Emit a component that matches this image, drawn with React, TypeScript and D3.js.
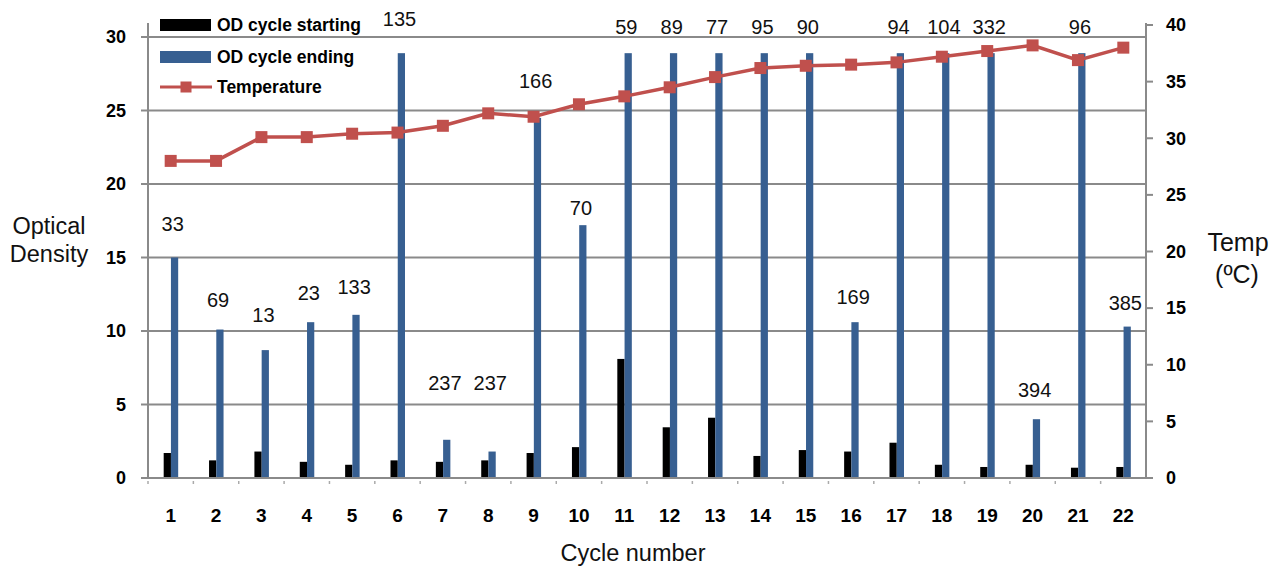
import React from "react";
import * as d3 from "d3";

const cycles = ["1","2","3","4","5","6","7","8","9","10","11","12","13","14","15","16","17","18","19","20","21","22"];
const odStart = [1.7,1.2,1.8,1.1,0.9,1.2,1.1,1.2,1.7,2.1,8.1,3.45,4.1,1.5,1.9,1.8,2.4,0.9,0.75,0.9,0.7,0.75];
const odEnd = [15.0,10.1,8.7,10.6,11.1,28.9,2.6,1.8,24.5,17.2,28.9,28.9,28.9,28.9,28.9,10.6,28.9,28.9,28.9,4.0,28.9,10.3];
const temperature = [28,28,30.1,30.1,30.4,30.5,31.1,32.2,31.9,33.0,33.7,34.5,35.4,36.2,36.4,36.5,36.7,37.2,37.7,38.2,36.9,38.0];
const labels = ["33","69","13","23","133","135","237","237","166","70","59","89","77","95","90","169","94","104","332","394","96","385"];
// height (in OD units) at which each annotation label sits
const labelLevel = [17.3,12.1,11.1,12.6,13.0,31.25,6.45,6.45,27.0,18.4,30.7,30.7,30.7,30.7,30.7,12.3,30.7,30.7,30.7,6.0,30.7,11.9];
const leftTicks = [0,5,10,15,20,25,30];
const rightTicks = [0,5,10,15,20,25,30,35,40];
const seriesNames = ["OD cycle starting","OD cycle ending","Temperature"];

const W = 1281, H = 567;
const left = 148, right = 1146, bottom = 478, axisTop = 23;
const BLUE = "#375f91";
const RED = "#c0504d";
const GRID = "#8a8a8a";
const FONT = "'Liberation Sans', Arial, sans-serif";

export default function App() {
  const x = d3.scaleBand<string>().domain(cycles).range([left, right]).padding(0);
  const yL = d3.scaleLinear().domain([0, 30]).range([bottom, 37]);
  const yR = d3.scaleLinear().domain([0, 40]).range([bottom, 25]);
  const sub = d3.scaleBand<string>().domain(["start","end"]).range([0, 14.5]).padding(0);
  const line = d3.line<number>()
    .x((_, i) => x(cycles[i])! + x.bandwidth() / 2)
    .y((d) => yR(d));

  return (
    <svg width={W} height={H} style={{ position: "absolute", left: 0, top: 0, background: "#fff", fontFamily: FONT }}>
      {/* gridlines */}
      {leftTicks.filter(t => t > 0).map(t => (
        <line key={"g" + t} x1={left} x2={right} y1={yL(t)} y2={yL(t)} stroke={GRID} strokeWidth={2} />
      ))}
      {/* bars */}
      {cycles.map((c, i) => {
        const cx = x(c)! + x.bandwidth() / 2 - 7;
        return (
          <g key={"b" + c}>
            <rect x={cx + sub("start")!} y={yL(odStart[i])} width={sub.bandwidth()} height={bottom - yL(odStart[i])} fill="#000" />
            <rect x={cx + sub("end")!} y={yL(odEnd[i])} width={sub.bandwidth()} height={bottom - yL(odEnd[i])} fill={BLUE} />
          </g>
        );
      })}
      {/* temperature line */}
      <path d={line(temperature) || ""} fill="none" stroke={RED} strokeWidth={3.5} />
      {temperature.map((t, i) => {
        const px = x(cycles[i])! + x.bandwidth() / 2;
        return <rect key={"m" + i} x={px - 6} y={yR(t) - 6} width={12} height={12} fill={RED} />;
      })}
      {/* annotation labels */}
      {labels.map((l, i) => {
        const px = x(cycles[i])! + x.bandwidth() / 2 + 2;
        return (
          <text key={"l" + i} x={px} y={yL(labelLevel[i])} dy="0.35em" textAnchor="middle" fontSize={20} fill="#111">{l}</text>
        );
      })}
      {/* axes */}
      <line x1={left} x2={left} y1={axisTop} y2={bottom + 1} stroke={GRID} strokeWidth={2} />
      <line x1={right} x2={right} y1={axisTop} y2={bottom + 1} stroke={GRID} strokeWidth={2} />
      <line x1={left - 6} x2={right + 6} y1={bottom} y2={bottom} stroke={GRID} strokeWidth={2} />
      {leftTicks.map(t => (
        <g key={"lt" + t}>
          <line x1={left - 7} x2={left} y1={yL(t)} y2={yL(t)} stroke={GRID} strokeWidth={2} />
          <text x={126} y={yL(t)} dy="0.35em" textAnchor="end" fontSize={18} fontWeight="bold" fill="#000">{t}</text>
        </g>
      ))}
      {rightTicks.map(t => (
        <g key={"rt" + t}>
          <line x1={right} x2={right + 7} y1={yR(t)} y2={yR(t)} stroke={GRID} strokeWidth={2} />
          <text x={1166} y={yR(t)} dy="0.35em" textAnchor="start" fontSize={18} fontWeight="bold" fill="#000">{t}</text>
        </g>
      ))}
      {cycles.map((c, i) => (
        <g key={"xt" + c}>
          <line x1={x(c)!} x2={x(c)!} y1={bottom + 3} y2={bottom + 6} stroke="#aaa" strokeWidth={1.5} />
          <text x={x(c)! + x.bandwidth() / 2} y={515} dy="0.35em" textAnchor="middle" fontSize={19} fontWeight="bold" fill="#000">{c}</text>
        </g>
      ))}
      {/* axis titles */}
      <text x={49} y={226} dy="0.35em" textAnchor="middle" fontSize={23.5} fill="#111">Optical</text>
      <text x={49} y={254} dy="0.35em" textAnchor="middle" fontSize={23.5} fill="#111">Density</text>
      <text x={1238} y={242} dy="0.35em" textAnchor="middle" fontSize={25} fill="#111">Temp</text>
      <text x={1237} y={274} dy="0.35em" textAnchor="middle" fontSize={25} fill="#111">(ºC)</text>
      <text x={633} y={553} dy="0.35em" textAnchor="middle" fontSize={23.5} fill="#111">Cycle number</text>
      {/* legend */}
      <g fontWeight="bold" fontSize={17.5}>
        <rect x={160} y={19} width={51} height={12} fill="#000" />
        <text x={217} y={25} dy="0.35em" fill="#000">{seriesNames[0]}</text>
        <rect x={160} y={51} width={51} height={12} fill={BLUE} />
        <text x={217} y={57} dy="0.35em" fill="#000">{seriesNames[1]}</text>
        <line x1={160} x2={212} y1={87} y2={87} stroke={RED} strokeWidth={3} />
        <rect x={180.5} y={81.5} width={11} height={11} fill={RED} />
        <text x={217} y={87} dy="0.35em" fill="#000">{seriesNames[2]}</text>
      </g>
    </svg>
  );
}
